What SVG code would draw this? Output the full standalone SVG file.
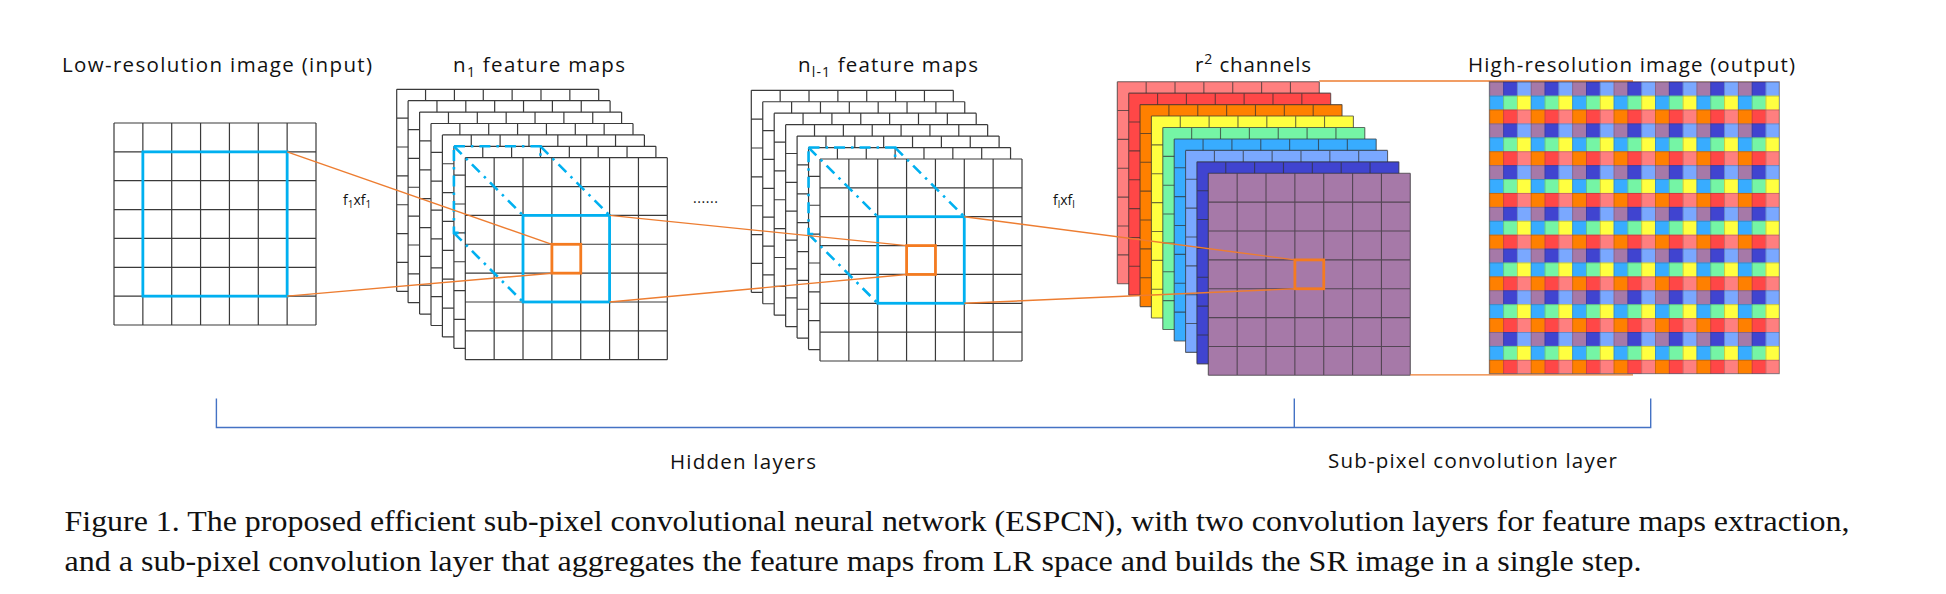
<svg xmlns="http://www.w3.org/2000/svg" xmlns:xlink="http://www.w3.org/1999/xlink" width="1946" height="594" viewBox="0 0 1946 594">
<style>
.lbl{font-family:"Open Sans",Lato,"Liberation Sans",sans-serif;font-size:20.5px;fill:#111}
.small{font-family:"Open Sans",Lato,"Liberation Sans",sans-serif;font-size:14px;fill:#111}
.cap{font-family:"Liberation Serif","Times New Roman",serif;font-size:30px;fill:#111}
.blue{fill:none;stroke:#00B0F0;stroke-width:2.8}
.dd{fill:none;stroke:#00B0F0;stroke-width:2.6;stroke-dasharray:11 6 2.5 6}
.osq{fill:none;stroke:#F47B20;stroke-width:2.8}
.conn{fill:none;stroke:#ED7D31;stroke-width:1.4}
.brk{fill:none;stroke:#4472C4;stroke-width:1.4}
</style>
<defs>
<path id="gl" d="M0 0V202M28.86 0V202M57.71 0V202M86.57 0V202M115.43 0V202M144.29 0V202M173.14 0V202M202 0V202M0 0H202M0 28.86H202M0 57.71H202M0 86.57H202M0 115.43H202M0 144.29H202M0 173.14H202M0 202H202" fill="none" stroke="#3a3a3a" stroke-width="1.2"/>
<path id="glc" d="M0 0V202M28.86 0V202M57.71 0V202M86.57 0V202M115.43 0V202M144.29 0V202M173.14 0V202M202 0V202M0 0H202M0 28.86H202M0 57.71H202M0 86.57H202M0 115.43H202M0 144.29H202M0 173.14H202M0 202H202" fill="none" stroke="#303030" stroke-opacity="0.7" stroke-width="1.1"/>
<g id="sheetW"><rect x="0" y="0" width="202" height="202" fill="#fff"/><use xlink:href="#gl"/></g>
<pattern id="hrp" patternUnits="userSpaceOnUse" x="1489.3" y="81.7" width="41.43" height="41.715">
<rect x="0" y="0" width="13.81" height="13.905" fill="#A679A8"/>
<rect x="13.81" y="0" width="13.81" height="13.905" fill="#4044D0"/>
<rect x="27.62" y="0" width="13.81" height="13.905" fill="#7AA8FF"/>
<rect x="0" y="13.905" width="13.81" height="13.905" fill="#38ACFF"/>
<rect x="13.81" y="13.905" width="13.81" height="13.905" fill="#75F5A5"/>
<rect x="27.62" y="13.905" width="13.81" height="13.905" fill="#FFFF40"/>
<rect x="0" y="27.81" width="13.81" height="13.905" fill="#FF8000"/>
<rect x="13.81" y="27.81" width="13.81" height="13.905" fill="#FF4747"/>
<rect x="27.62" y="27.81" width="13.81" height="13.905" fill="#FF7F7F"/>
</pattern>
<pattern id="hrg" patternUnits="userSpaceOnUse" x="1489.3" y="81.7" width="13.81" height="13.905">
<path d="M0 0V13.905M0 0H13.81" fill="none" stroke="#202020" stroke-opacity="0.45" stroke-width="1"/>
</pattern>
</defs>
<rect width="1946" height="594" fill="#fff"/>

<g id="lr-image">
<use xlink:href="#sheetW" x="114" y="123"/>
<rect class="blue" x="142.86" y="151.86" width="144.29" height="144.29"/>
</g>

<g id="stack-n1">
<use xlink:href="#sheetW" x="396.7" y="89.3"/>
<use xlink:href="#sheetW" x="408.1" y="100.7"/>
<use xlink:href="#sheetW" x="419.6" y="112.1"/>
<use xlink:href="#sheetW" x="431.0" y="123.5"/>
<use xlink:href="#sheetW" x="442.4" y="134.9"/>
<use xlink:href="#sheetW" x="453.9" y="146.3"/>
<rect class="dd" x="453.9" y="146.3" width="86.57" height="86.57"/>
<use xlink:href="#sheetW" x="465.3" y="157.7"/>
<rect class="blue" x="523.0" y="215.4" width="86.57" height="86.57"/>
<path class="dd" d="M453.9 146.3L523.0 215.4M540.5 146.3L609.6 215.4M453.9 232.9L523.0 302.0"/>
<rect class="osq" x="551.9" y="244.3" width="28.86" height="28.86"/>
</g>

<g id="stack-nl1">
<use xlink:href="#sheetW" x="751.3" y="90.3"/>
<use xlink:href="#sheetW" x="762.75" y="101.75"/>
<use xlink:href="#sheetW" x="774.2" y="113.2"/>
<use xlink:href="#sheetW" x="785.65" y="124.65"/>
<use xlink:href="#sheetW" x="797.1" y="136.1"/>
<use xlink:href="#sheetW" x="808.55" y="147.55"/>
<rect class="dd" x="808.55" y="147.55" width="86.57" height="86.57"/>
<use xlink:href="#sheetW" x="820" y="159"/>
<rect class="blue" x="877.7" y="216.7" width="86.57" height="86.57"/>
<path class="dd" d="M808.55 147.55L877.7 216.7M895.1 147.55L964.3 216.7M808.55 234.1L877.7 303.3"/>
<rect class="osq" x="906.6" y="245.6" width="28.86" height="28.86"/>
</g>

<g id="stack-r2">
<rect x="1117.3" y="81.7" width="202" height="202" fill="#FF7F7F"/><use xlink:href="#glc" x="1117.3" y="81.7"/>
<rect x="1128.7" y="93.15" width="202" height="202" fill="#FF4747"/><use xlink:href="#glc" x="1128.7" y="93.15"/>
<rect x="1140.05" y="104.6" width="202" height="202" fill="#FF8000"/><use xlink:href="#glc" x="1140.05" y="104.6"/>
<rect x="1151.4" y="116.05" width="202" height="202" fill="#FFFF40"/><use xlink:href="#glc" x="1151.4" y="116.05"/>
<rect x="1162.8" y="127.5" width="202" height="202" fill="#75F5A5"/><use xlink:href="#glc" x="1162.8" y="127.5"/>
<rect x="1174.2" y="138.95" width="202" height="202" fill="#38ACFF"/><use xlink:href="#glc" x="1174.2" y="138.95"/>
<rect x="1185.55" y="150.4" width="202" height="202" fill="#7AA8FF"/><use xlink:href="#glc" x="1185.55" y="150.4"/>
<rect x="1196.9" y="161.85" width="202" height="202" fill="#4044D0"/><use xlink:href="#glc" x="1196.9" y="161.85"/>
<rect x="1208.3" y="173.3" width="202" height="202" fill="#A679A8"/><use xlink:href="#glc" x="1208.3" y="173.3"/>
<rect class="osq" x="1294.9" y="259.9" width="28.86" height="28.86"/>
</g>

<g id="connectors">
<path class="conn" d="M287.1 151.9L551.9 244.3"/>
<path class="conn" d="M287.1 296.1L551.9 273.2"/>
<path class="conn" d="M609.6 215.4L906.6 245.6"/>
<path class="conn" d="M609.6 302.0L906.6 274.5"/>
<path class="conn" d="M964.3 216.7L1294.9 259.9"/>
<path class="conn" d="M964.3 303.3L1294.9 288.8"/>
<path class="conn" d="M1319.3 81.0L1633 81.0"/>
<path class="conn" d="M1410.3 374.9L1633 374.9"/>
</g>

<g id="hr-image">
<rect x="1489.3" y="81.7" width="290" height="292" fill="url(#hrp)"/>
<rect x="1489.3" y="81.7" width="290" height="292" fill="url(#hrg)"/>
<rect x="1489.3" y="81.7" width="290" height="292" fill="none" stroke="#202020" stroke-opacity="0.45" stroke-width="1"/>
</g>

<g id="labels">
<text class="lbl" x="62" y="72" textLength="310">Low-resolution image (input)</text>
<text class="lbl" x="453" y="72" textLength="172">n<tspan font-size="14" dy="5">1</tspan><tspan dy="-5"> feature maps</tspan></text>
<text class="lbl" x="798" y="72" textLength="180">n<tspan font-size="14" dy="5">l-1</tspan><tspan dy="-5"> feature maps</tspan></text>
<text class="lbl" x="1195" y="72" textLength="116">r<tspan font-size="14" dy="-8">2</tspan><tspan dy="8"> channels</tspan></text>
<text class="lbl" x="1468" y="72" textLength="327">High-resolution image (output)</text>
<text class="small" x="343" y="205">f<tspan font-size="10" dy="3">1</tspan><tspan dy="-3">xf</tspan><tspan font-size="10" dy="3">1</tspan></text>
<text class="small" x="1053" y="205">f<tspan font-size="10" dy="3">l</tspan><tspan dy="-3">xf</tspan><tspan font-size="10" dy="3">l</tspan></text>
<text class="small" x="693" y="203" textLength="25">......</text>
<text class="lbl" x="670" y="469" textLength="146">Hidden layers</text>
<text class="lbl" x="1328" y="468" textLength="289">Sub-pixel convolution layer</text>
</g>

<g id="bracket">
<path class="brk" d="M216.4 398.5V427.5H1650.7V398.5M1294.3 398.5V427.5"/>
</g>

<g id="caption">
<text class="cap" x="64.5" y="531" textLength="1785" lengthAdjust="spacingAndGlyphs">Figure 1. The proposed efficient sub-pixel convolutional neural network (ESPCN), with two convolution layers for feature maps extraction,</text>
<text class="cap" x="64.5" y="571" textLength="1577" lengthAdjust="spacingAndGlyphs">and a sub-pixel convolution layer that aggregates the feature maps from LR space and builds the SR image in a single step.</text>
</g>
</svg>
